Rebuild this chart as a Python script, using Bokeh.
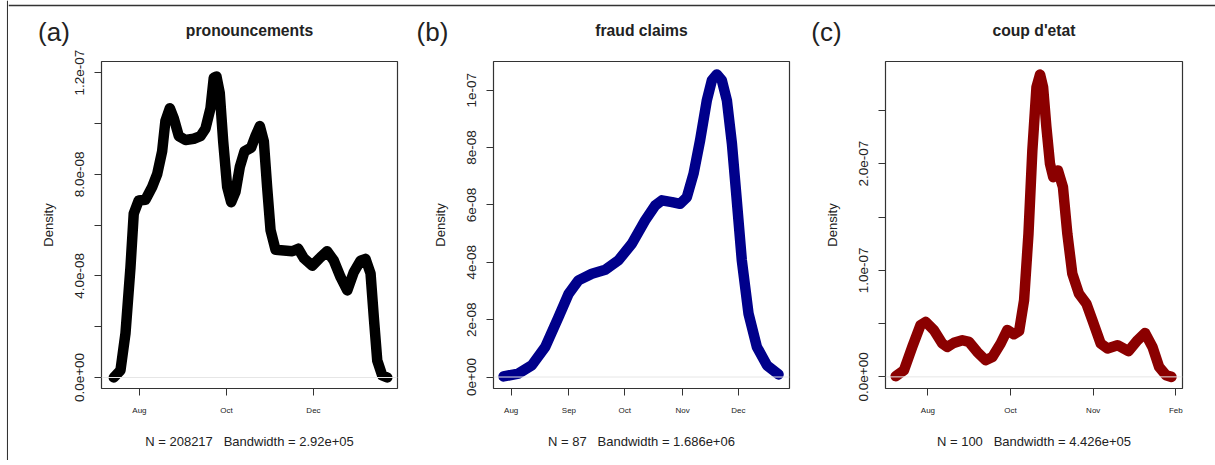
from bokeh.plotting import figure
from bokeh.layouts import row, column
from bokeh.models import FixedTicker, Label, Span
from bokeh.embed import file_html
from bokeh.resources import INLINE

FONT = "Liberation Sans"

# ---- data (x: days relative to 1 Aug, y: density in units of 1e-8) ----
DAYS_A = [-18, -13.3, -9.8, -6.3, -4, -0.5, 4.2, 8.9, 12.4, 15.9, 18.2, 21.3, 24.1, 27.6,
          32.3, 38.1, 42.8, 46.3, 49.8, 52.1, 54, 56.3, 58.7, 61.5, 64.3, 67.3, 70.4, 73.6,
          78.3, 81.3, 84.4, 87.2, 89.5, 91.9, 95.4, 101.2, 107.1, 111.3, 115.2, 121.1, 126.9,
          131.6, 136.3, 141, 145.7, 150.3, 155, 158.5, 162, 164.3, 166.7, 170.2, 173.7]
DENS_A = [0, 0.28, 1.73, 4.33, 6.45, 6.97, 7.0, 7.5, 8.0, 8.9, 10.1, 10.6, 10.2, 9.5,
          9.35, 9.4, 9.5, 9.8, 10.6, 11.8, 11.85, 11.2, 9.3, 7.5, 6.9, 7.3, 8.3, 8.9,
          9.05, 9.5, 9.9, 9.3, 7.5, 5.8, 5.03, 5.0, 4.97, 5.07, 4.7, 4.4, 4.73,
          4.97, 4.6, 3.95, 3.43, 4.15, 4.6, 4.67, 4.1, 2.37, 0.67, 0.08, 0]
XTICKS_A = [0, 61, 122]
XLABELS_A = ["Aug", "Oct", "Dec"]
YTICKS_A = [0, 2, 4, 6, 8, 10, 12]
YLABELS_A = ["0.0e+00", "", "4.0e-08", "", "8.0e-08", "", "1.2e-07"]

DAYS_B = [-4.1, 3.9, 11.1, 18.3, 25.4, 30.8, 36.1, 43.3, 50.5, 57.6, 64.8, 71.9, 77.3, 80.9,
          86.3, 90.7, 94.3, 97.9, 101.4, 105, 107.7, 110.4, 113.1, 115.8, 118.5, 121.1,
          123.8, 127.4, 131.9, 137.3, 143.5]
DENS_B = [0.02, 0.12, 0.41, 1.05, 2.09, 2.9, 3.37, 3.6, 3.74, 4.07, 4.65, 5.46, 5.98, 6.16,
          6.1, 6.04, 6.27, 7.09, 8.25, 9.64, 10.34, 10.55, 10.34, 9.64, 8.13, 6.16,
          4.07, 2.21, 1.05, 0.41, 0.09]
XTICKS_B = [0, 31, 61, 92, 122]
XLABELS_B = ["Aug", "Sep", "Oct", "Nov", "Dec"]
YTICKS_B = [0, 2, 4, 6, 8, 10]
YLABELS_B = ["0e+00", "2e-08", "4e-08", "6e-08", "8e-08", "1e-07"]

DAYS_C = [-11.7, -8.7, -5.7, -2.7, -0.8, 2.2, 5.2, 7.0, 9.4, 12.5, 14.9, 17.9, 20.9, 23.4,
          26.4, 28.8, 31.2, 33.1, 34.9, 36.5, 37.9, 39.4, 40.7, 41.8, 43.0, 44.3, 45.5,
          47.2, 49.0, 50.6, 52.4, 54.8, 57.5, 59.7, 62.7, 65.2, 68.8, 72.8, 76.1, 78.8,
          81.5, 83.9, 86.4, 88.4]
DENS_C = [0.07, 0.63, 2.81, 4.85, 5.16, 4.38, 3.13, 2.81, 3.19, 3.44, 3.28, 2.34, 1.57, 1.87,
          3.13, 4.4, 4.0, 4.3, 7.19, 13.44, 21.25, 27.18, 28.37, 27.18, 23.43, 20.0, 18.74,
          19.37, 17.81, 13.44, 9.69, 7.82, 6.88, 5.31, 3.13, 2.66, 2.97, 2.41, 3.44, 4.12,
          2.81, 0.94, 0.16, 0]
XTICKS_C = [0, 30, 60, 90]
XLABELS_C = ["Aug", "Oct", "Nov", "Feb"]
YTICKS_C = [0, 5, 10, 15, 20, 25]
YLABELS_C = ["0.0e+00", "", "1.0e-07", "", "2.0e-07", ""]

TAGS = ["(a)", "(b)", "(c)"]
TITLES = ["pronouncements", "fraud claims", "coup d'etat"]
NOTES = ["N = 208217   Bandwidth = 2.92e+05",
         "N = 87   Bandwidth = 1.686e+06",
         "N = 100   Bandwidth = 4.426e+05"]
COLORS = ["#000000", "#00008B", "#8B0000"]

TXT = "#222222"

# layout (pixels)
BORDER_L = [93, 88, 80]
BORDER_R = [8, 16, 25]
FRAME_W = [296, 296, 297]
FRAME_H = 327
BORDER_T = 13
BORDER_B = 72
HEADER_H = 48
STRIP_W = 8
TAG_DX = [-47.5, -61, -59]


def panel(note, days, dens, color, xt, xl, yt, yl, xr, yr, bl, br, fw):
    p = figure(frame_width=fw, frame_height=FRAME_H, min_border_left=bl, min_border_right=br,
               min_border_top=BORDER_T, min_border_bottom=BORDER_B, x_range=xr, y_range=yr,
               output_backend="svg", toolbar_location=None, tools="")
    p.background_fill_color = "white"
    p.border_fill_color = "white"
    p.outline_line_color = "#333333"
    p.outline_line_width = 1.2
    p.grid.visible = False

    for ax in (p.xaxis[0], p.yaxis[0]):
        ax.axis_line_color = None
        ax.major_tick_line_color = "#333333"
        ax.major_tick_in = 0
        ax.major_tick_out = 7
        ax.minor_tick_line_color = None
        ax.major_label_text_font = FONT
        ax.major_label_text_color = TXT
        ax.axis_label_text_font = FONT
        ax.axis_label_text_font_style = "normal"
        ax.axis_label_text_color = TXT
        ax.axis_label_text_font_size = "13px"

    xa = p.xaxis[0]
    xa.ticker = FixedTicker(ticks=xt)
    xa.major_label_overrides = {t: l for t, l in zip(xt, xl)}
    xa.major_label_text_font_size = "8px"
    xa.major_label_standoff = 10
    xa.axis_label = note.replace("   ", "\u00a0\u00a0 ")
    xa.axis_label_standoff = 16

    ya = p.yaxis[0]
    ya.ticker = FixedTicker(ticks=yt)
    ya.major_label_overrides = {t: l for t, l in zip(yt, yl)}
    ya.major_label_text_font_size = "13.5px"
    ya.major_label_orientation = "vertical"
    ya.major_label_standoff = 10
    ya.axis_label = "Density"
    ya.axis_label_standoff = 17

    p.add_layout(Span(location=0, dimension="width", line_color="#e6e6e6", line_width=1))
    p.line(days, dens, line_color=color, line_width=10.5, line_cap="round", line_join="round")
    return p


pa = panel(NOTES[0], DAYS_A, DENS_A, COLORS[0], XTICKS_A, XLABELS_A, YTICKS_A, YLABELS_A,
           (-26.6, 180.9), (-0.433, 12.44), BORDER_L[0], BORDER_R[0], FRAME_W[0])
pb = panel(NOTES[1], DAYS_B, DENS_B, COLORS[1], XTICKS_B, XLABELS_B, YTICKS_B, YLABELS_B,
           (-9.5, 149.4), (-0.40, 11.0), BORDER_L[1], BORDER_R[1], FRAME_W[1])
pc = panel(NOTES[2], DAYS_C, DENS_C, COLORS[2], XTICKS_C, XLABELS_C, YTICKS_C, YLABELS_C,
           (-15.4, 92.4), (-1.09, 29.59), BORDER_L[2], BORDER_R[2], FRAME_W[2])

# header with panel tags and titles
HEAD_W = 1207
hd = figure(width=HEAD_W, height=HEADER_H, x_range=(0, HEAD_W), y_range=(0, HEADER_H),
            x_axis_type=None, y_axis_type=None, min_border=0, output_backend="svg",
            toolbar_location=None, tools="")
hd.outline_line_color = None
hd.grid.visible = False
hd.add_layout(Span(location=HEADER_H - 5, dimension="width", line_color="#333333", line_width=1.5))
start = 0
for i in range(3):
    frame_left = start + BORDER_L[i]
    hd.add_layout(Label(x=frame_left + FRAME_W[i] / 2, y=18, text=TITLES[i], text_font=FONT,
                        text_font_size="15.7px", text_font_style="bold", text_color=TXT,
                        text_align="center", text_baseline="middle"))
    hd.add_layout(Label(x=frame_left + TAG_DX[i], y=17, text=TAGS[i], text_font=FONT,
                        text_font_size="26px", text_color=TXT,
                        text_align="center", text_baseline="middle"))
    start += BORDER_L[i] + FRAME_W[i] + BORDER_R[i]

# left frame strip
total_h = HEADER_H + BORDER_T + FRAME_H + BORDER_B
st = figure(width=STRIP_W, height=total_h, x_range=(0, STRIP_W), y_range=(0, total_h),
            x_axis_type=None, y_axis_type=None, min_border=0, output_backend="svg",
            toolbar_location=None, tools="")
st.outline_line_color = None
st.grid.visible = False
st.add_layout(Span(location=7.2, dimension="height", line_color="#333333", line_width=1.5))

layout = row(st, column(hd, row(pa, pb, pc, spacing=0), spacing=0), spacing=0)

open("out.html", "w").write(file_html(layout, INLINE))
